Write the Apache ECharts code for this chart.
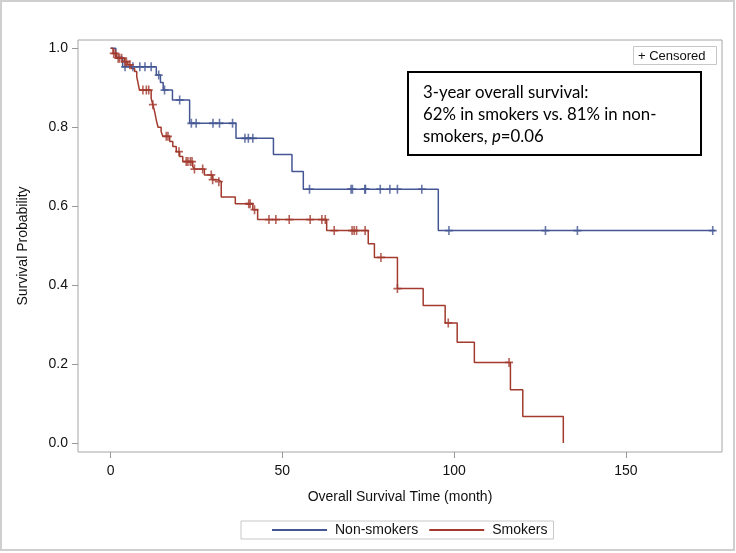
<!DOCTYPE html>
<html>
<head>
<meta charset="utf-8">
<script src="https://cdn.jsdelivr.net/npm/echarts@6/dist/echarts.min.js"></script>
<style>
  html, body { margin: 0; padding: 0; background: #fff; }
  #chart { width: 736px; height: 553px; }
</style>
</head>
<body>
<div id="chart"></div>
<script>
// 数据部分：KM 曲线（事件时间 / 生存率）以及删失时间
var nsTime = [0, 1.5, 3.5, 13.3, 14.5, 15.3, 18, 23, 36.5, 47.4, 52.8, 56.1, 95.4, 176];
var nsSurv = [1.0, 0.977, 0.953, 0.932, 0.913, 0.894, 0.869, 0.81, 0.772, 0.731, 0.688, 0.643, 0.538, 0.538];
var nsCens = [4.2, 6.5, 8.5, 10, 11.8, 14, 15.7, 20.1, 23.5, 24.9, 29.8, 31.7, 35.5, 39.1, 40.1, 41.4,
              57.9, 70, 70.4, 74, 74.2, 78.5, 81.3, 83.5, 90.6, 98.5, 126.6, 135.9, 175.3];

var smTime = [0, 0.7, 1.7, 4, 5, 6, 7, 7.6, 8, 8.4, 11.8, 12.3, 12.8, 13.3, 13.8, 14.7, 15.2, 17.2, 18.1,
              19.1, 20.1, 21, 23.9, 24.4, 27.3, 29.7, 31.2, 32.2, 36.3, 41.4, 42.8, 62.9, 75, 76.8,
              83.5, 91, 97.4, 100.9, 105.9, 116.4, 120, 131.8];
var smSurv = [1.0, 0.987, 0.975, 0.966, 0.958, 0.949, 0.941, 0.928, 0.911, 0.894, 0.873, 0.857, 0.84, 0.818,
              0.80, 0.789, 0.777, 0.764, 0.751, 0.738, 0.726, 0.713, 0.70, 0.694, 0.679, 0.667, 0.662,
              0.623, 0.606, 0.591, 0.566, 0.538, 0.505, 0.470, 0.391, 0.348, 0.304, 0.255, 0.204,
              0.135, 0.067, 0.0];
var smCens = [0.9, 1.4, 2.2, 2.6, 3.2, 4.2, 4.6, 5.6, 9.4, 10.4, 11.1, 12.3, 16.2, 16.7, 19.9, 22, 22.5,
              23.2, 23.7, 24.4, 26.8, 29.3, 29.7, 31.5, 40.2, 40.6, 41.9, 46.1, 48.1, 52, 58.1, 61.5,
              62.5, 65.1, 70.3, 70.9, 71.6, 74.1, 78.7, 83.5, 98.3, 116];

var xTicks = [0, 50, 100, 150];
var yTicks = [0, 0.2, 0.4, 0.6, 0.8, 1.0];

var blue = '#445694', red = '#A23A2E';
var font = '"Liberation Sans", Arial, sans-serif';

// 取某一时刻的生存率
function survAt(times, surv, t) {
    var v = surv[0];
    for (var i = 0; i < times.length; i++) {
        if (times[i] <= t) v = surv[i];
    }
    return v;
}
function pairs(times, surv) {
    return times.map(function (t, i) { return [t, surv[i]]; });
}
function censPts(cens, times, surv) {
    return cens.map(function (t) { return [t, survAt(times, surv, t)]; });
}

var plus = 'path://M4,0h2v10h-2z M0,4h10v2h-10z';

var chart = echarts.init(document.getElementById('chart'));
var option = {
    animation: false,
    backgroundColor: '#fff',
    grid: {
        left: 78, top: 40, right: 14, bottom: 101,
        show: true, borderColor: '#a6a6a6', borderWidth: 1
    },
    xAxis: {
        type: 'value', min: -9.5, max: 178,
        name: 'Overall Survival Time (month)', nameLocation: 'middle', nameGap: 38,
        nameTextStyle: { fontFamily: font, fontSize: 14, color: '#111' },
        axisLine: { show: false, onZero: false },
        axisTick: { show: true, length: 6, customValues: xTicks, lineStyle: { color: '#999' } },
        axisLabel: { customValues: xTicks, margin: 12, fontFamily: font, fontSize: 14, color: '#111' },
        splitLine: { show: false }
    },
    yAxis: {
        type: 'value', min: -0.023, max: 1.021,
        name: 'Survival Probability', nameLocation: 'middle', nameGap: 48,
        nameTextStyle: { fontFamily: font, fontSize: 14, color: '#111' },
        axisLine: { show: false, onZero: false },
        axisTick: { show: true, length: 6, customValues: yTicks, lineStyle: { color: '#999' } },
        axisLabel: {
            customValues: yTicks, margin: 10, fontFamily: font, fontSize: 14, color: '#111',
            formatter: function (v) { return v.toFixed(1); }
        },
        splitLine: { show: false }
    },
    legend: {
        data: ['Non-smokers', 'Smokers'],
        left: 241, top: 521,
        width: 318,
        padding: [2, 6, 2, 31],
        itemGap: 11,
        itemWidth: 55, itemHeight: 2,
        icon: 'rect',
        borderColor: '#c8c8c8', borderWidth: 1,
        textStyle: { fontFamily: font, fontSize: 14, color: '#111', padding: [0, 0, 0, 3] }
    },
    graphic: [
        { type: 'rect', shape: { x: 1, y: 1, width: 733, height: 549 },
          style: { fill: 'none', stroke: '#cfcfcf', lineWidth: 2 }, silent: true },
        { type: 'rect', shape: { x: 633.5, y: 46.5, width: 83, height: 18 },
          style: { fill: '#fff', stroke: '#c8c8c8', lineWidth: 1 }, z: 10 },
        { type: 'text', x: 638, y: 56, z: 11,
          style: { text: '+ Censored', font: '13px ' + font, fill: '#111', verticalAlign: 'middle' } },
        { type: 'rect', shape: { x: 408, y: 72, width: 293, height: 83 },
          style: { fill: '#fff', stroke: '#000', lineWidth: 2 }, z: 10 },
        { type: 'text', x: 423, y: 82, z: 11,
          style: {
              text: '{a|3-year overall survival:}\n{a|62% in smokers vs. 81% in non-}\n{a|smokers, }{i|p}{a|=0.06}',
              rich: {
                  a: { fontFamily: 'Lato', fontSize: 16.8, lineHeight: 22, fill: '#000' },
                  i: { fontFamily: 'Lato', fontSize: 16.8, lineHeight: 22, fontStyle: 'italic', fill: '#000' }
              }
          } }
    ],
    series: [
        {
            name: 'Non-smokers', type: 'line', step: 'end', symbol: 'none',
            color: blue, lineStyle: { width: 1.5, color: blue },
            data: pairs(nsTime, nsSurv), z: 3
        },
        {
            name: 'Smokers', type: 'line', step: 'end', symbol: 'none',
            color: red, lineStyle: { width: 1.5, color: red },
            data: pairs(smTime, smSurv), z: 3
        },
        {
            name: 'ns-cens', type: 'scatter', symbol: plus, symbolSize: [8, 9],
            itemStyle: { color: blue }, data: censPts(nsCens, nsTime, nsSurv), z: 4
        },
        {
            name: 'sm-cens', type: 'scatter', symbol: plus, symbolSize: [8, 9],
            itemStyle: { color: red }, data: censPts(smCens, smTime, smSurv), z: 4
        }
    ]
};
chart.setOption(option);
</script>
</body>
</html>
